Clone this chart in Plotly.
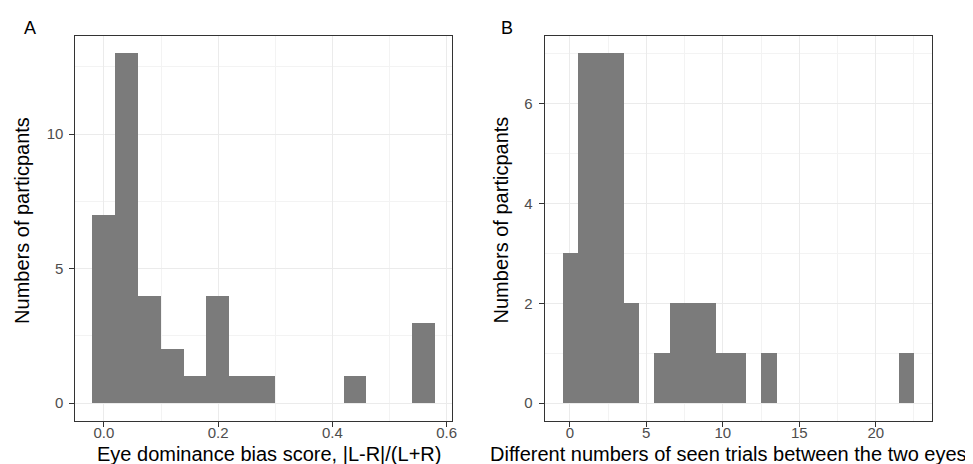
import plotly.graph_objects as go

# Panel A: eye dominance bias score histogram (bin centres, counts)
bias_bin_centers = [0.00, 0.04, 0.08, 0.12, 0.16, 0.20, 0.24, 0.28, 0.32, 0.36, 0.40, 0.44, 0.48, 0.52, 0.56]
bias_counts      = [7,    13,   4,    2,    1,    4,    1,    1,    0,    0,    0,    1,    0,    0,    3]

# Panel B: difference in number of seen trials (bin centres, counts)
diff_bin_centers = list(range(0, 23))
diff_counts      = [3, 7, 7, 7, 2, 0, 1, 2, 2, 2, 1, 1, 0, 1, 0, 0, 0, 0, 0, 0, 0, 0, 1]

xticks_a = [0.0, 0.2, 0.4, 0.6]
xticklabels_a = ["0.0", "0.2", "0.4", "0.6"]
yticks_a = [0, 5, 10]
xticks_b = [0, 5, 10, 15, 20]
yticks_b = [0, 2, 4, 6]

BAR = "#7b7b7b"
FONT = "Liberation Sans, Arial, sans-serif"
W, H = 973, 464

fig = go.Figure()
fig.add_trace(go.Bar(x=bias_bin_centers, y=bias_counts, width=0.04,
                     marker=dict(color=BAR, line=dict(width=0)),
                     xaxis="x", yaxis="y", showlegend=False))
fig.add_trace(go.Bar(x=diff_bin_centers, y=diff_counts, width=1.0,
                     marker=dict(color=BAR, line=dict(width=0)),
                     xaxis="x2", yaxis="y2", showlegend=False))

common = dict(showline=True, mirror=True, linecolor="#333333", linewidth=1,
              ticks="outside", ticklen=5, tickcolor="#333333", tickwidth=1,
              showgrid=True, gridcolor="#EBEBEB", gridwidth=1, zeroline=False,
              tickfont=dict(family=FONT, size=15, color="#4D4D4D"))
minor_style = dict(showgrid=True, gridcolor="#F3F3F3", gridwidth=0.6, ticklen=0)

def ann(text, x, y, size=20, angle=0):
    return dict(text=text, x=x / W, y=1 - y / H, xref="paper", yref="paper",
                xanchor="center", yanchor="middle", showarrow=False, textangle=angle,
                font=dict(family=FONT, size=size, color="#000000"))

fig.update_layout(
    width=W, height=H,
    paper_bgcolor="white", plot_bgcolor="white",
    margin=dict(l=0, r=0, t=0, b=0),
    bargap=0,
    xaxis=dict(domain=[0.0696, 0.4591], range=[-0.05, 0.61],
               tickvals=xticks_a, ticktext=xticklabels_a, ticklabelstandoff=-7,
               minor=dict(dtick=0.1, tick0=0, **minor_style),
               anchor="y", **common),
    yaxis=dict(domain=[0.1106, 0.9397], range=[-0.65, 13.65],
               tickvals=yticks_a, ticklabelstandoff=3,
               minor=dict(dtick=2.5, tick0=0, **minor_style),
               anchor="x", **common),
    xaxis2=dict(domain=[0.5543, 0.9541], range=[-1.65, 23.65],
                tickvals=xticks_b, ticklabelstandoff=-7,
                minor=dict(dtick=2.5, tick0=0, **minor_style),
                anchor="y2", **common),
    yaxis2=dict(domain=[0.1106, 0.9397], range=[-0.35, 7.35],
                tickvals=yticks_b, ticklabelstandoff=3,
                minor=dict(dtick=1, tick0=0, **minor_style),
                anchor="x2", **common),
    annotations=[
        ann("A", 22, 20, size=18),
        ann("B", 502, 20, size=18),
        ann("Eye dominance bias score, |L-R|/(L+R)", 262, 446),
        ann("Different numbers of seen trials between the two eyes", 724, 446),
        ann("Numbers of particpants", 14, 212, angle=-90),
        ann("Numbers of particpants", 496, 212, angle=-90),
    ],
)

fig.write_html("out.html")
